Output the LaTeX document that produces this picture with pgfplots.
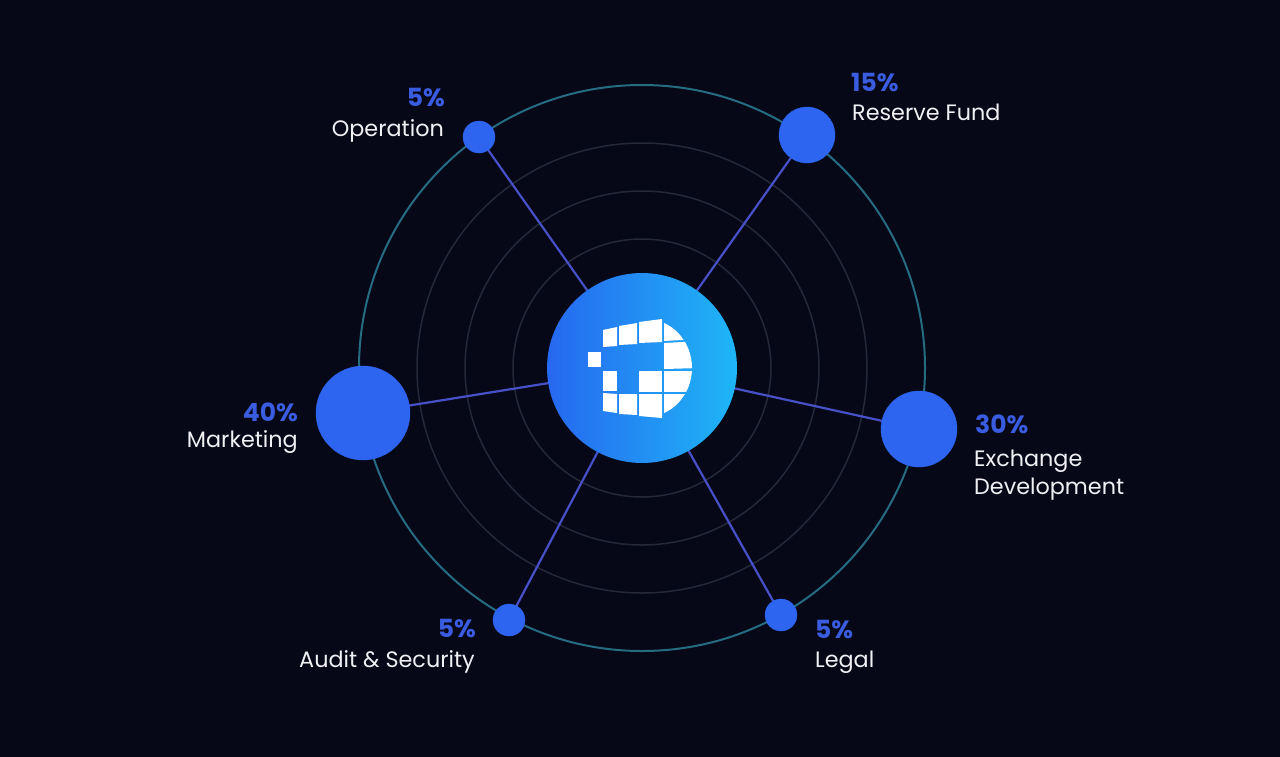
\documentclass[border=0pt]{standalone}
\usepackage{fontspec}
\setmainfont{Poppins}
\usepackage{pgfplots}
\pgfplotsset{compat=1.18}
\definecolor{bg}{RGB}{6,8,24}
\definecolor{ringouter}{RGB}{38,108,128}
\definecolor{ringinner}{RGB}{36,40,56}
\definecolor{spoke}{RGB}{72,80,200}
\definecolor{bubble}{RGB}{45,100,240}
\definecolor{pct}{RGB}{58,92,224}
\definecolor{gradL}{RGB}{38,104,240}
\definecolor{gradR}{RGB}{30,182,246}
\definecolor{lbl}{RGB}{240,240,244}
\begin{document}
\begin{tikzpicture}
\begin{axis}[
  x=1pt, y=1pt, xmin=0, xmax=1280, ymin=0, ymax=756, y dir=reverse,
  hide axis, scale only axis, clip=false]
% background
\fill[bg] (axis cs:-10,-10) rectangle (axis cs:1290,766);
\coordinate (BL) at (axis cs:0,756);
\coordinate (TR) at (axis cs:1280,0);
% rings
\draw[ringinner, line width=1.5pt] (axis cs:642,368) circle[radius=129pt];
\draw[ringinner, line width=1.5pt] (axis cs:642,368) circle[radius=177pt];
\draw[ringinner, line width=1.5pt] (axis cs:642,368) circle[radius=225pt];
\draw[ringouter, line width=2pt] (axis cs:642,368) circle[radius=283pt];
% spokes
\addplot[spoke, line width=2.2pt, no marks] coordinates {(642,368) (479,137)};
\addplot[spoke, line width=2.2pt, no marks] coordinates {(642,368) (807,135)};
\addplot[spoke, line width=2.2pt, no marks] coordinates {(642,368) (363,413)};
\addplot[spoke, line width=2.2pt, no marks] coordinates {(642,368) (919,429)};
\addplot[spoke, line width=2.2pt, no marks] coordinates {(642,368) (509,620)};
\addplot[spoke, line width=2.2pt, no marks] coordinates {(642,368) (781,615)};
% center disc
\shade[left color=gradL, right color=gradR] (axis cs:642,368) circle[radius=95pt];
% logo
\fill[white] (axis cs:588,352) rectangle (axis cs:601,367);
\fill[white] (axis cs:603,330) -- (axis cs:617,327) -- (axis cs:617,346) -- (axis cs:603,347) -- cycle;
\fill[white] (axis cs:619,326) -- (axis cs:637,323) -- (axis cs:637,344) -- (axis cs:619,345) -- cycle;
\fill[white] (axis cs:639,322) -- (axis cs:662,319) -- (axis cs:662,342) -- (axis cs:639,343) -- cycle;
\fill[white] (axis cs:603,371) rectangle (axis cs:617,391);
\fill[white] (axis cs:639,371) rectangle (axis cs:662,392);
\fill[white] (axis cs:603,393) -- (axis cs:617,394) -- (axis cs:617,413) -- (axis cs:603,411) -- cycle;
\fill[white] (axis cs:619,394) -- (axis cs:637,394) -- (axis cs:637,415) -- (axis cs:619,414) -- cycle;
\fill[white] (axis cs:639,394) -- (axis cs:662,394) -- (axis cs:662,418) -- (axis cs:639,416) -- cycle;
\begin{scope}
\clip (axis cs:646,368) ellipse[x radius=46pt, y radius=49pt];
\fill[white] (axis cs:664,318) -- (axis cs:700,318) -- (axis cs:700,339) -- (axis cs:664,341) -- cycle;
\fill[white] (axis cs:664,343) -- (axis cs:700,341) -- (axis cs:700,368) -- (axis cs:664,369) -- cycle;
\fill[white] (axis cs:664,371) rectangle (axis cs:700,392);
\fill[white] (axis cs:664,394) -- (axis cs:700,394) -- (axis cs:700,420) -- (axis cs:664,418) -- cycle;
\end{scope}
% bubbles
\addplot[scatter, only marks, mark=*,
  scatter/use mapped color={draw=bubble, fill=bubble},
  visualization depends on={\thisrow{r} \as \rr},
  scatter/@pre marker code/.append style={/tikz/mark size=\rr}]
  table {
x   y   r
479 137 16
807 135 28
363 413 47
919 429 38
509 620 16
781 615 16
};
% labels
\tikzset{pc/.style={text=pct, inner sep=0pt, font=\fontsize{25}{30}\selectfont\bfseries},
         lb/.style={text=lbl, inner sep=0pt, font=\fontsize{22.3}{27}\selectfont}}
\node[pc, anchor=base east] at (axis cs:445,106) {5\%};
\node[lb, anchor=base east] at (axis cs:444,136) {Operation};
\node[pc, anchor=base west] at (axis cs:851,91) {15\%};
\node[lb, anchor=base west] at (axis cs:852,120) {Reserve Fund};
\node[pc, anchor=base east] at (axis cs:298,421) {40\%};
\node[lb, anchor=base east] at (axis cs:298,447) {Marketing};
\node[pc, anchor=base west] at (axis cs:975,433) {30\%};
\node[lb, anchor=base west] at (axis cs:974,466) {Exchange};
\node[lb, anchor=base west] at (axis cs:974,494) {Development};
\node[pc, anchor=base east] at (axis cs:476,637) {5\%};
\node[lb, anchor=base east] at (axis cs:475,667) {Audit \& Security};
\node[pc, anchor=base west] at (axis cs:815,638) {5\%};
\node[lb, anchor=base west] at (axis cs:815,667) {Legal};
\end{axis}
\pgfresetboundingbox
\path[use as bounding box] (BL) rectangle (TR);
\end{tikzpicture}
\end{document}
